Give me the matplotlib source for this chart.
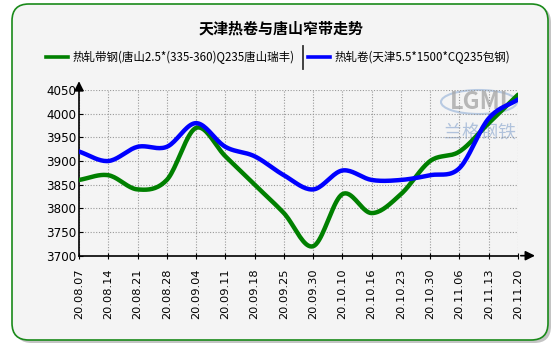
import numpy as np
import matplotlib
matplotlib.use("Agg")
import matplotlib.pyplot as plt
from matplotlib.patches import FancyBboxPatch, Ellipse

plt.rcParams['font.family'] = ['Noto Sans CJK SC', 'DejaVu Sans']

dates = ["20.08.07", "20.08.14", "20.08.21", "20.08.28", "20.09.04", "20.09.11",
         "20.09.18", "20.09.25", "20.09.30", "20.10.10", "20.10.16", "20.10.23",
         "20.10.30", "20.11.06", "20.11.13", "20.11.20"]
strip_tangshan = [3860, 3870, 3840, 3860, 3970, 3910, 3850, 3790, 3720, 3830,
                  3790, 3830, 3900, 3920, 3980, 4040]
coil_tianjin = [3920, 3900, 3930, 3930, 3980, 3930, 3910, 3870, 3840, 3880,
                3860, 3860, 3870, 3885, 3990, 4030]
series_names = ["热轧带钢(唐山2.5*(335-360)Q235唐山瑞丰)", "热轧卷(天津5.5*1500*CQ235包钢)"]
title = "天津热卷与唐山窄带走势"
yticks = [3700, 3750, 3800, 3850, 3900, 3950, 4000, 4050]


def smooth(y, n=20):
    """Catmull-Rom curve through the weekly points."""
    y = np.asarray(y, float)
    x = np.arange(len(y), dtype=float)
    P = np.column_stack([x, y])
    P = np.vstack([2 * P[0] - P[1], P, 2 * P[-1] - P[-2]])
    out = []
    t = np.linspace(0, 1, n, endpoint=False)[:, None]
    for i in range(1, len(P) - 2):
        p0, p1, p2, p3 = P[i - 1], P[i], P[i + 1], P[i + 2]
        seg = 0.5 * ((2 * p1) + (-p0 + p2) * t + (2 * p0 - 5 * p1 + 4 * p2 - p3) * t ** 2
                     + (-p0 + 3 * p1 - 3 * p2 + p3) * t ** 3)
        out.append(seg)
    out.append(P[-2][None, :])
    out = np.vstack(out)
    return out[:, 0], out[:, 1]


fig = plt.figure(figsize=(5.6, 3.48), dpi=100)
fig.patch.set_facecolor("white")

W, H = 560, 348
def fx(px):
    return px / W
def fy(py):
    return 1 - py / H

# rounded panel with soft shadow
shadow = FancyBboxPatch((fx(15), fy(343)), fx(536), 337 / H,
                        boxstyle="round,pad=0,rounding_size=0.03",
                        transform=fig.transFigure, facecolor="#c4c4c4",
                        edgecolor="none", zorder=0, mutation_aspect=W / H)
fig.patches.append(shadow)
panel = FancyBboxPatch((fx(12), fy(340)), fx(536), 336 / H,
                       boxstyle="round,pad=0,rounding_size=0.03",
                       transform=fig.transFigure, facecolor="#f4f4f4",
                       edgecolor="#1a8a1a", linewidth=1.2, zorder=1,
                       mutation_aspect=W / H)
fig.patches.append(panel)

ax = fig.add_axes([fx(79), fy(255.7), (518 - 79) / W, (255.7 - 90) / H])
ax.set_facecolor("none")
ax.set_zorder(3)

x = np.arange(len(dates))
gx, gy = smooth(strip_tangshan)
bx, by = smooth(coil_tianjin)
ax.plot(gx, gy, color="#008000", lw=3.2, solid_capstyle="round", zorder=4)
ax.plot(bx, by, color="#0000ff", lw=3.2, solid_capstyle="round", zorder=5)

ax.set_xlim(0, len(dates) - 1)
ax.set_ylim(3700, 4050)
ax.set_yticks(yticks)
ax.set_xticks(x)
ax.set_xticklabels(dates, rotation=90, fontsize=8.2, family="DejaVu Sans")
ax.set_yticklabels([str(v) for v in yticks], fontsize=8.6, family="DejaVu Sans")
ax.tick_params(axis="x", direction="inout", length=4, width=0.8, pad=7)
ax.tick_params(axis="y", direction="in", length=3, width=0.8, pad=2)
ax.grid(True, color="#999999", linestyle=(0, (1, 1.5)), linewidth=0.8)
for s in ["top", "right"]:
    ax.spines[s].set_visible(False)
for s in ["left", "bottom"]:
    ax.spines[s].set_linewidth(1.2)
    ax.spines[s].set_color("black")

# axis arrows
ax.annotate("", xy=(1.045, 0), xytext=(1.0, 0), xycoords="axes fraction",
            arrowprops=dict(arrowstyle="-|>", color="black", lw=1.2,
                            mutation_scale=14), annotation_clip=False)
ax.annotate("", xy=(0, 1.07), xytext=(0, 1.0), xycoords="axes fraction",
            arrowprops=dict(arrowstyle="-|>", color="black", lw=1.2,
                            mutation_scale=14), annotation_clip=False)

# title
fig.text(fx(281), fy(28), title, ha="center", va="center", fontsize=10.8,
         fontweight="bold", zorder=5)

# legend
ly = fy(57)
fig.add_artist(plt.Line2D([fx(46), fx(68)], [ly, ly], color="#008000", lw=2.6,
                          transform=fig.transFigure))
fig.text(fx(73), ly, series_names[0], ha="left", va="center", fontsize=8.3)
fig.add_artist(plt.Line2D([fx(303), fx(303)], [fy(46), fy(69)], color="#333333",
                          lw=1.3, transform=fig.transFigure))
fig.add_artist(plt.Line2D([fx(308), fx(330)], [ly, ly], color="#0000ff", lw=2.6,
                          transform=fig.transFigure))
fig.text(fx(335), ly, series_names[1], ha="left", va="center", fontsize=8.3)

# watermark
fig.patches.append(Ellipse((fx(479), fy(102)), fx(76), 24 / H,
                           transform=fig.transFigure, facecolor="none",
                           edgecolor="#a9c0de", lw=1.5, alpha=0.8, zorder=2))
fig.text(fx(479), fy(102), "LGMI", ha="center", va="center", fontsize=17,
         fontweight="bold", color="#a8a8a8", alpha=0.8, zorder=2)
fig.text(fx(480), fy(134), "兰格钢铁", ha="center", va="center", fontsize=13,
         color="#9fb6d6", alpha=0.8, zorder=2)

fig.savefig("out.png", dpi=100, facecolor="white")
